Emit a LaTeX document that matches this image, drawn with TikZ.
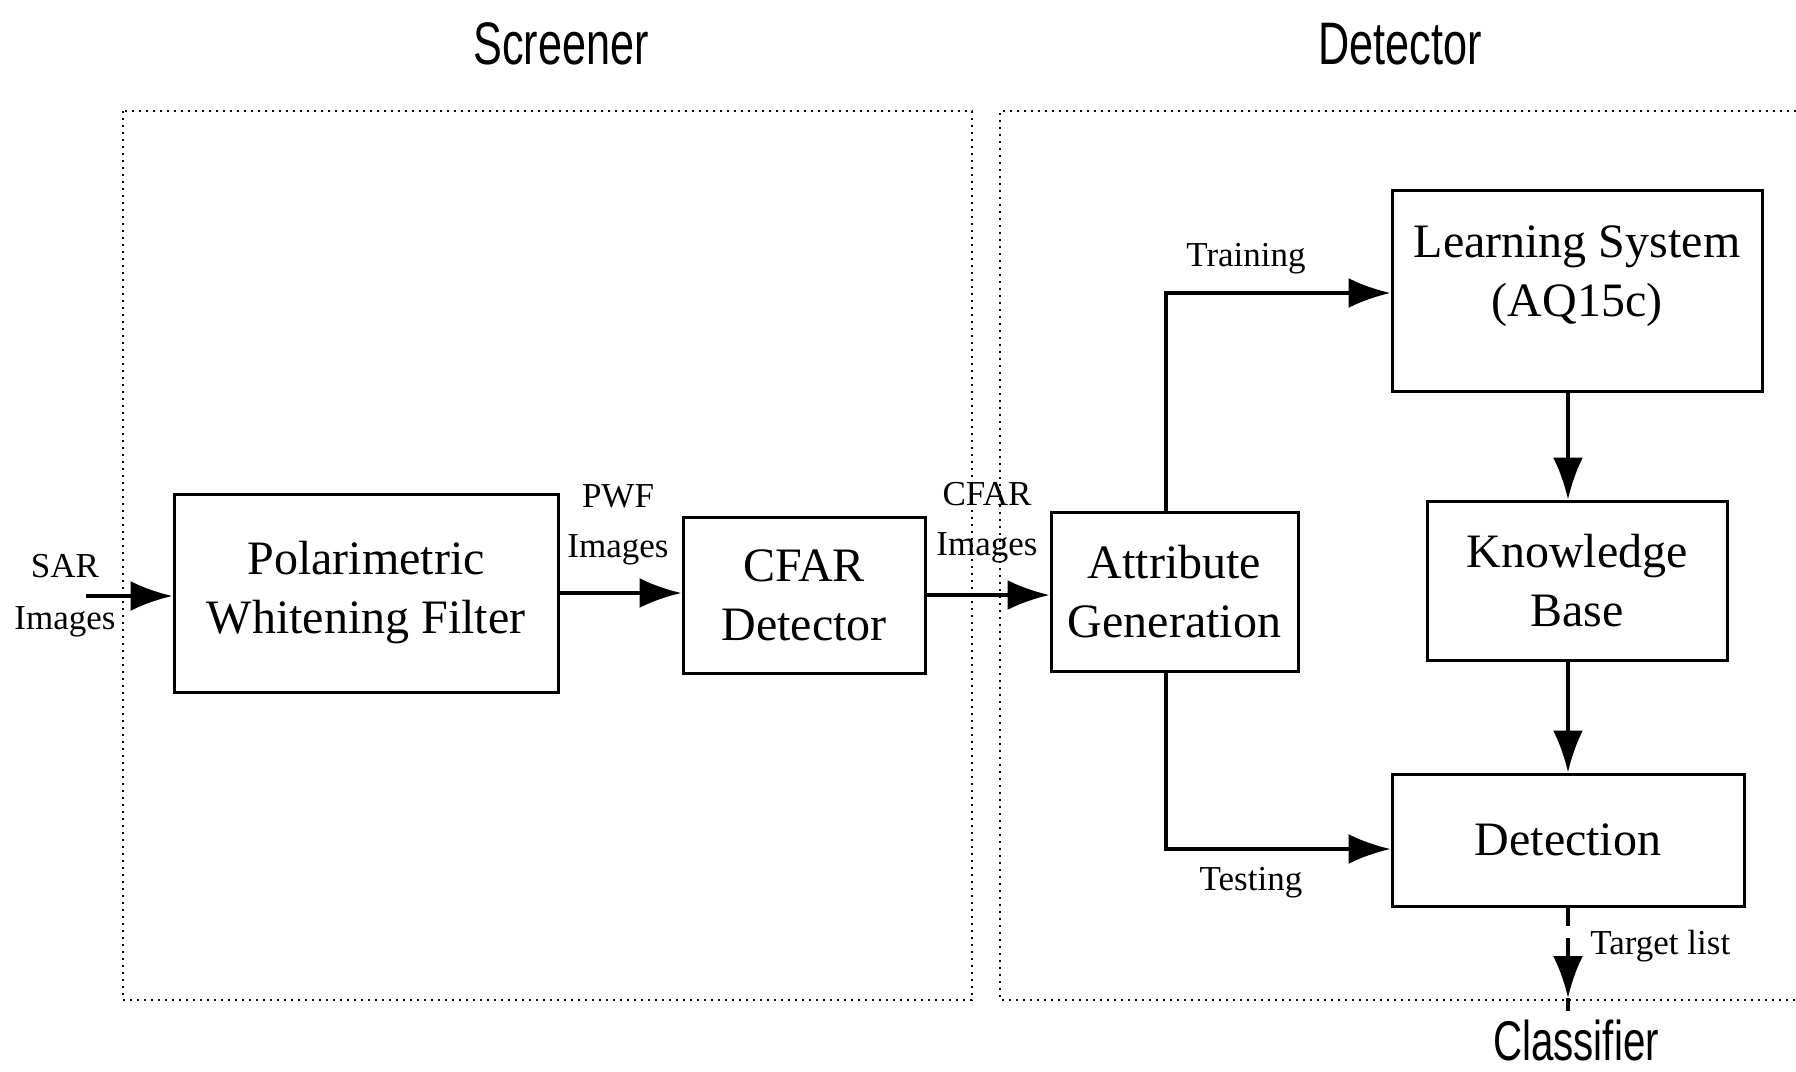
\documentclass[tikz,border=0pt]{standalone}
\usepackage{fontspec}
\setmainfont{Liberation Serif}
\newfontfamily\narrowsans[FakeStretch=0.72]{Liberation Sans}
\usetikzlibrary{arrows.meta}
\begin{document}
\begin{tikzpicture}[x=0.5pt,y=-0.5pt,
  boxtext/.style={inner sep=0pt, align=center, font=\fontsize{24}{29.5}\selectfont},
  box/.style={boxtext, draw, line width=1.5pt},
  lbl/.style={inner sep=0pt, align=center, font=\fontsize{17.5}{26}\selectfont},
  title/.style={inner sep=0pt, font=\narrowsans\fontsize{30}{36}\selectfont},
  conn/.style={line width=1.8pt, -{Latex[length=21pt,width=15pt]}},
  plainline/.style={line width=1.8pt},
  region/.style={line width=1pt, dash pattern=on 1pt off 2.5pt}]
\useasboundingbox (0,0) rectangle (1796,1072);

% titles
\node[title] (screener) at (561,44) {Screener};
\node[title] (detector) at (1400,44) {Detector};

% regions
\draw[region] (123,111) rectangle (972,1000);
\draw[region] (1796,111) -- (1000,111) -- (1000,1000) -- (1796,1000);

% boxes
\node[box, minimum width=192pt, minimum height=99pt] (pwf) at (366,593) {Polarimetric\\Whitening Filter};
\node[box, minimum width=121pt, minimum height=78pt] (cfar) at (804,595) {CFAR\\Detector};
\node[box, minimum width=123.5pt, minimum height=79.5pt] (attr) at (1174.5,591.5) {Attribute\\Generation};
\node[box, minimum width=185pt, minimum height=100.5pt] (learn) at (1577,290.5) {};
\node[boxtext] (learntxt) at (1577,276) {Learning System\\(AQ15c)};
\node[box, minimum width=150pt, minimum height=79.5pt] (know) at (1577,580.5) {Knowledge\\Base};
\node[box, minimum width=176pt, minimum height=66pt] (det) at (1568,840) {Detection};

% labels
\node[lbl] (sar) at (65,596) {SAR\\Images};
\node[lbl, font=\fontsize{17.5}{25}\selectfont] (pwfimg) at (618,525) {PWF\\Images};
\node[lbl, font=\fontsize{17.5}{25}\selectfont] (cfarimg) at (987,523) {CFAR\\Images};
\node[lbl] (training) at (1246,259) {Training};
\node[lbl] (testing) at (1251,883) {Testing};
\node[lbl, anchor=west] (tlist) at (1590,946) {Target list};
\node[title, font=\narrowsans\fontsize{28}{33}\selectfont] (clf) at (1576,1040) {Classifier};

% connectors
\coordinate (sarin) at (86,596);
\draw[conn] (sarin) -- (sarin -| pwf.west);
\draw[conn] (pwf.east) -- (pwf.east -| cfar.west);
\draw[conn] (cfar.east) -- (cfar.east -| attr.west);

\coordinate (trainturn) at (1166,293);
\coordinate (testturn) at (1166,849);
\draw[conn] (attr.north -| trainturn) -- (trainturn) -- (trainturn -| learn.west);
\draw[conn] (attr.south -| testturn) -- (testturn) -- (testturn -| det.west);

\draw[conn] (learn.south -| det.north) -- (know.north -| det.north);
\draw[conn] (know.south -| det.north) -- (det.north);

\coordinate (tgtend) at (1568,998);
\draw[conn, dash pattern=on 9pt off 6pt] (det.south) -- (tgtend);
\draw[plainline, shorten >=4pt] (tgtend) -- (tgtend |- clf.north);
\end{tikzpicture}
\end{document}
